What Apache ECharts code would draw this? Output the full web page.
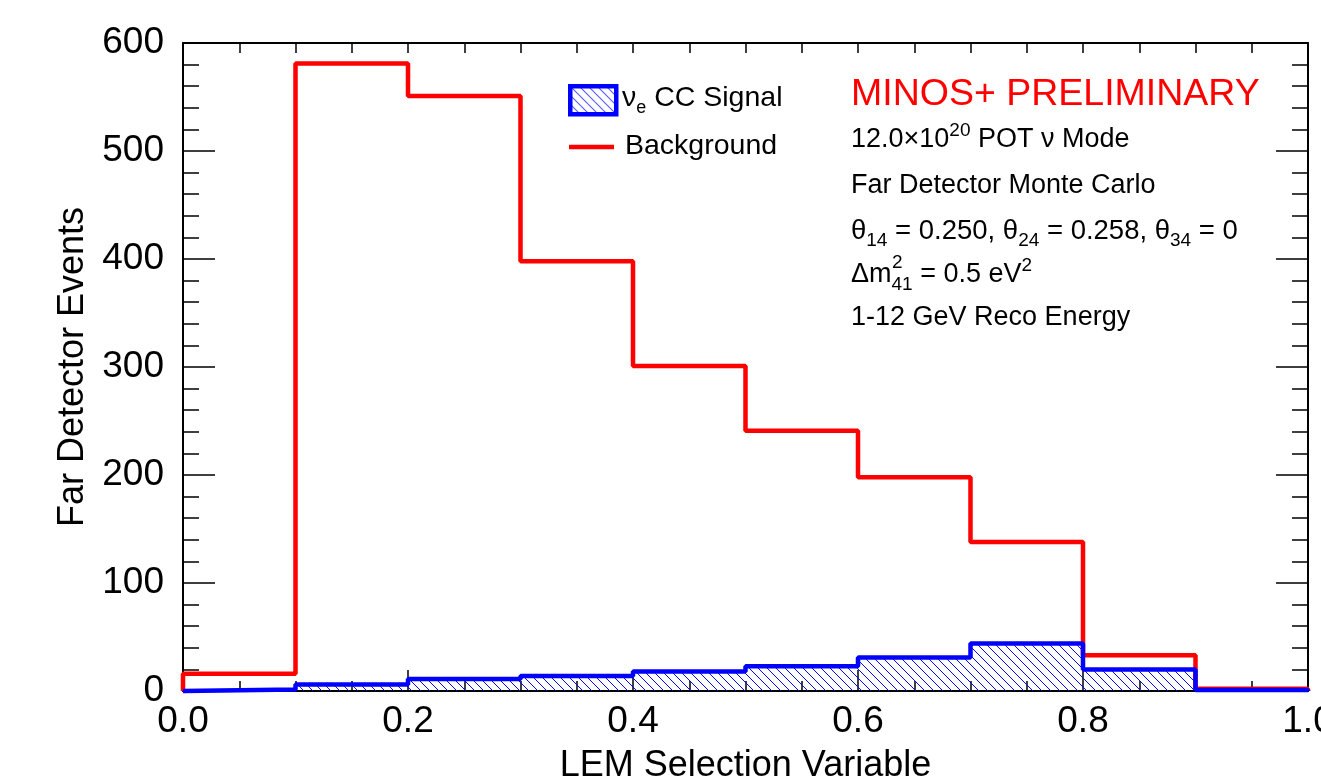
<!DOCTYPE html>
<html>
<head>
<meta charset="utf-8">
<script src="https://cdn.jsdelivr.net/npm/echarts@6/dist/echarts.min.js"></script>
<style>
html, body { margin: 0; padding: 0; background: #ffffff; }
#chart { width: 1321px; height: 782px; }
</style>
</head>
<body>
<div id="chart"></div>
<script>
// bin left edges of the LEM selection variable
var binEdges = [0.0, 0.1, 0.2, 0.3, 0.4, 0.5, 0.6, 0.7, 0.8, 0.9];
var binWidth = 0.1;
// events per bin
var background = [16, 581, 551, 398, 301, 241, 198, 138, 33, 2];
var signal = [1.5, 6, 11, 14, 18, 23, 31, 44, 20, 1];
var yTicks = [0, 100, 200, 300, 400, 500, 600];
var xTicks = [0.0, 0.2, 0.4, 0.6, 0.8, 1.0];

var FONT = 'Liberation Sans';

// histogram outline: both edges of every bin, starting and ending on zero
function histPoints(vals) {
    var pts = [[binEdges[0], 0]];
    for (var i = 0; i < vals.length; i++) {
        pts.push([binEdges[i], vals[i]]);
        pts.push([binEdges[i] + binWidth, vals[i]]);
    }
    pts.push([binEdges[binEdges.length - 1] + binWidth, 0]);
    return pts;
}

// blue "\\\\" hatch like ROOT fill style 3004
function hatch() {
    var c = document.createElement('canvas');
    var s = 9;
    c.width = s; c.height = s;
    var g = c.getContext('2d');
    g.strokeStyle = '#0000ff';
    g.lineWidth = 1;
    [-s, 0, s].forEach(function (k) {
        g.beginPath();
        g.moveTo(k, 0);
        g.lineTo(k + s, s);
        g.stroke();
    });
    return c;
}
var hatchCanvas = hatch();

var myChart = echarts.init(document.getElementById('chart'), null, { renderer: 'canvas' });

var axisLine = { show: true, onZero: false, lineStyle: { color: '#000', width: 2 } };
var tickLine = { color: '#000', width: 1.5 };

myChart.setOption({
    animation: false,
    backgroundColor: '#ffffff',
    grid: { left: 183, right: 13, top: 43, bottom: 91, containLabel: false, outerBoundsMode: 'none' },
    xAxis: [
        {
            type: 'value', position: 'bottom',
            min: xTicks[0], max: xTicks[xTicks.length - 1], interval: 0.2,
            axisLine: axisLine,
            axisTick: { show: true, inside: true, length: 21, lineStyle: tickLine },
            minorTick: { show: true, splitNumber: 4, length: 10, lineStyle: tickLine },
            splitLine: { show: false },
            axisLabel: {
                show: true, margin: 12, color: '#000', fontFamily: FONT, fontSize: 37,
                showMinLabel: true, showMaxLabel: true, hideOverlap: false,
                formatter: function (v) { return v.toFixed(1); }
            },
            name: 'LEM Selection Variable', nameLocation: 'middle', nameGap: 57,
            nameTextStyle: { color: '#000', fontFamily: FONT, fontSize: 36 }
        },
        {
            type: 'value', position: 'top',
            min: xTicks[0], max: xTicks[xTicks.length - 1], interval: 0.2,
            axisLine: axisLine,
            axisTick: { show: true, inside: true, length: 10, lineStyle: tickLine },
            minorTick: { show: true, splitNumber: 4, length: 10, lineStyle: tickLine },
            splitLine: { show: false },
            axisLabel: { show: false }
        }
    ],
    yAxis: [
        {
            type: 'value', position: 'left',
            min: yTicks[0], max: yTicks[yTicks.length - 1], interval: 100,
            axisLine: axisLine,
            axisTick: { show: true, inside: true, length: 32, lineStyle: tickLine },
            minorTick: { show: true, splitNumber: 5, length: 16, lineStyle: tickLine },
            splitLine: { show: false },
            axisLabel: {
                show: true, margin: 19, color: '#000', fontFamily: FONT, fontSize: 37,
                showMinLabel: true, showMaxLabel: true, hideOverlap: false
            },
            name: 'Far Detector Events', nameLocation: 'middle', nameGap: 89,
            nameTextStyle: { color: '#000', fontFamily: FONT, fontSize: 36 }
        },
        {
            type: 'value', position: 'right',
            min: yTicks[0], max: yTicks[yTicks.length - 1], interval: 100,
            axisLine: axisLine,
            axisTick: { show: true, inside: true, length: 32, lineStyle: tickLine },
            minorTick: { show: true, splitNumber: 5, length: 16, lineStyle: tickLine },
            splitLine: { show: false },
            axisLabel: { show: false }
        }
    ],
    series: [
        {
            name: 'Background', type: 'line',
            xAxisIndex: 0, yAxisIndex: 0,
            data: histPoints(background),
            showSymbol: false, symbol: 'none', clip: false,
            lineStyle: { color: '#ff0000', width: 4.5 },
            z: 2
        },
        {
            name: 've CC Signal', type: 'line',
            xAxisIndex: 0, yAxisIndex: 0,
            data: histPoints(signal),
            showSymbol: false, symbol: 'none', clip: false,
            lineStyle: { color: '#0000ff', width: 4.5 },
            areaStyle: { color: { image: hatchCanvas, repeat: 'repeat' }, opacity: 1 },
            z: 3
        }
    ],
    graphic: [
        // legend
        {
            type: 'rect', left: 568, top: 84,
            shape: { width: 46, height: 28 },
            style: { fill: { image: hatchCanvas, repeat: 'repeat' }, stroke: '#0000ff', lineWidth: 4.5 }
        },
        {
            type: 'line',
            shape: { x1: 569, y1: 147, x2: 614, y2: 147 },
            style: { stroke: '#ff0000', lineWidth: 4.5 }
        },
        {
            type: 'text', x: 622, y: 98,
            style: {
                text: '\u03bd{sub|e} CC Signal', fill: '#000', font: '28.5px ' + FONT,
                verticalAlign: 'middle', lineHeight: 38,
                rich: { sub: { fontSize: 18, lineHeight: 18, verticalAlign: 'bottom', fontFamily: FONT, fill: '#000' } }
            }
        },
        {
            type: 'text', x: 625, y: 146,
            style: { text: 'Background', fill: '#000', font: '28.5px ' + FONT, verticalAlign: 'middle' }
        },
        // annotations
        {
            type: 'text', x: 851, y: 95,
            style: { text: 'MINOS+ PRELIMINARY', fill: '#ff0000', font: '37.5px ' + FONT, verticalAlign: 'middle' }
        },
        {
            type: 'text', x: 851, y: 140,
            style: {
                text: '12.0\u00d710{sup|20} POT \u03bd Mode', fill: '#000', font: '27px ' + FONT,
                verticalAlign: 'middle', lineHeight: 38,
                rich: { sup: { fontSize: 19, lineHeight: 19, verticalAlign: 'top', fontFamily: FONT, fill: '#000' } }
            }
        },
        {
            type: 'text', x: 851, y: 186,
            style: { text: 'Far Detector Monte Carlo', fill: '#000', font: '27px ' + FONT, verticalAlign: 'middle' }
        },
        {
            type: 'text', x: 851, y: 231,
            style: {
                text: '\u03b8{sub|14} = 0.250, \u03b8{sub|24} = 0.258, \u03b8{sub|34} = 0', fill: '#000', font: '27.5px ' + FONT,
                verticalAlign: 'middle', lineHeight: 38,
                rich: { sub: { fontSize: 19, lineHeight: 19, verticalAlign: 'bottom', fontFamily: FONT, fill: '#000' } }
            }
        },
        {
            type: 'text', x: 851, y: 275,
            style: {
                text: '\u0394m{sub|41} = 0.5 eV{sup|2}', fill: '#000', font: '27px ' + FONT,
                verticalAlign: 'middle', lineHeight: 38,
                rich: {
                    sub: { fontSize: 19, lineHeight: 19, verticalAlign: 'bottom', fontFamily: FONT, fill: '#000' },
                    sup: { fontSize: 19, lineHeight: 19, verticalAlign: 'top', fontFamily: FONT, fill: '#000' }
                }
            }
        },
        {
            type: 'text', x: 892, y: 263,
            style: { text: '2', fill: '#000', font: '19px ' + FONT, verticalAlign: 'middle' }
        },
        {
            type: 'text', x: 851, y: 318,
            style: { text: '1-12 GeV Reco Energy', fill: '#000', font: '27px ' + FONT, verticalAlign: 'middle' }
        }
    ]
});
</script>
</body>
</html>
